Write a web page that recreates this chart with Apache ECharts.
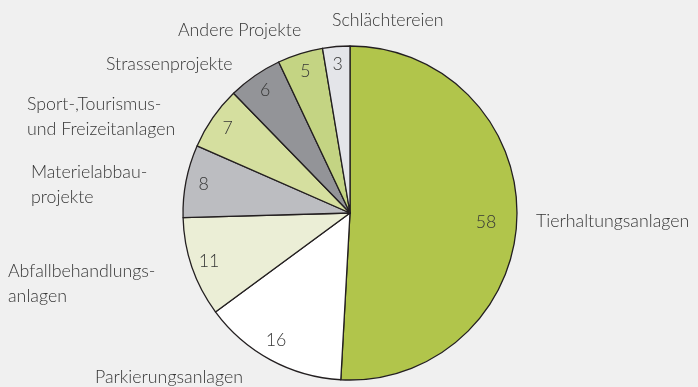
<!DOCTYPE html>
<html>
<head>
<meta charset="utf-8">
<script src="https://cdn.jsdelivr.net/npm/echarts@6/dist/echarts.min.js"></script>
<style>
  html, body { margin: 0; padding: 0; background: #f0f0f0; }
  #chart { width: 698px; height: 387px; }
</style>
</head>
<body>
<div id="chart"></div>
<script>
// Project categories (clockwise from 12 o'clock) and their counts
const categories = [
  'Tierhaltungsanlagen',
  'Parkierungsanlagen',
  'Abfallbehandlungs-\nanlagen',
  'Materielabbau-\nprojekte',
  'Sport-,Tourismus-\nund Freizeitanlagen',
  'Strassenprojekte',
  'Andere Projekte',
  'Schlächtereien'
];
const values = [58, 16, 11, 8, 7, 6, 5, 3];
const sliceColors = ['#b1c54b', '#ffffff', '#ebeed6', '#bcbdc1', '#d5df9f', '#939498', '#c4d483', '#e4e5e9'];

const FONT = 'Lato, "Open Sans", sans-serif';
const TEXT = '#363636';
const CENTER = [350, 213];
const R = 167;

// Placement of the category names around the pie (left edge, vertical middle)
const nameAnchors = [
  [536, 221], [95, 377], [8, 284], [31, 184.5],
  [27, 117], [106, 64.5], [178, 30], [332, 20.3]
];
// Small nudges for the value labels inside the two largest slices
const valueNudge = { 0: [-13, 5], 1: [-3, -4] };

const pieData = categories.map((name, i) => ({
  name: name,
  value: values[i],
  itemStyle: { color: sliceColors[i] }
}));

const chart = echarts.init(document.getElementById('chart'), null, { renderer: 'canvas' });
chart.setOption({
  backgroundColor: '#f0f0f0',
  animation: false,
  series: [
    {
      type: 'pie',
      center: CENTER,
      radius: [0, R],
      startAngle: 90,
      clockwise: true,
      silent: true,
      avoidLabelOverlap: false,
      data: pieData,
      itemStyle: { borderColor: '#231f20', borderWidth: 1.3 },
      label: {
        show: true,
        position: 'outside',
        formatter: '{b}',
        fontFamily: FONT,
        fontWeight: 300,
        fontSize: 17.8,
        lineHeight: 25,
        color: TEXT
      },
      labelLine: { show: false },
      emphasis: { disabled: true },
      labelLayout: function (p) {
        const a = nameAnchors[p.dataIndex];
        return { x: a[0], y: a[1], align: 'left', verticalAlign: 'middle' };
      }
    },
    {
      // transparent ring that carries the value labels
      type: 'pie',
      center: CENTER,
      radius: [125, R],
      startAngle: 90,
      clockwise: true,
      silent: true,
      avoidLabelOverlap: false,
      data: values.map((v, i) => ({ name: categories[i], value: v })),
      itemStyle: { color: 'rgba(0,0,0,0)', borderWidth: 0 },
      label: {
        show: true,
        position: 'inside',
        formatter: '{c}',
        fontFamily: FONT,
        fontWeight: 300,
        fontSize: 17.8,
        color: TEXT
      },
      labelLine: { show: false },
      emphasis: { disabled: true },
      labelLayout: function (p) {
        const n = valueNudge[p.dataIndex];
        return n ? { dx: n[0], dy: n[1] } : {};
      }
    }
  ]
});
</script>
</body>
</html>
